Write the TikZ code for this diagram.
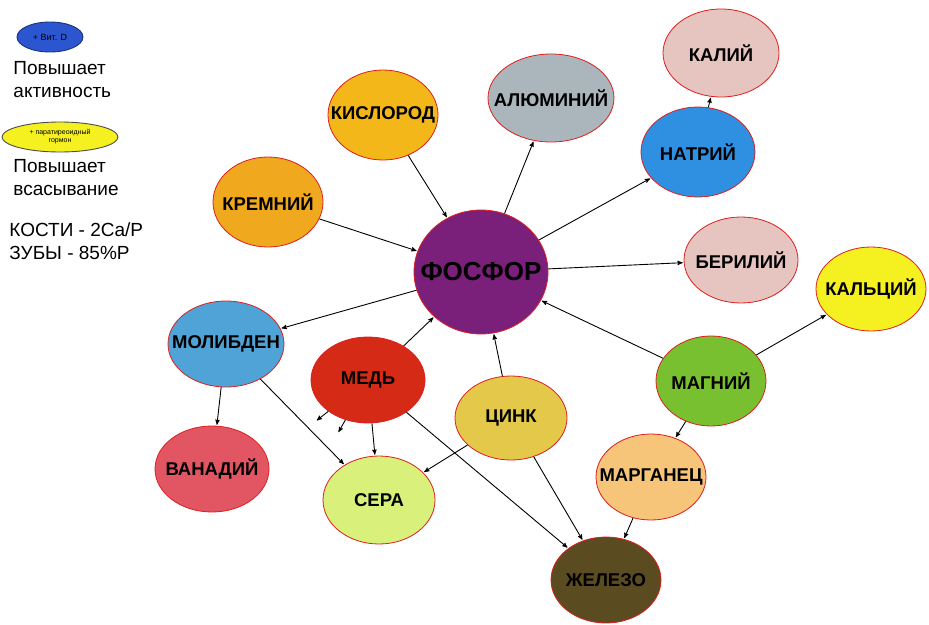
\documentclass[tikz,border=0pt]{standalone}
\usepackage{fontspec}
\setmainfont{Liberation Sans}
\usetikzlibrary{shapes.geometric, arrows}

\definecolor{phosC}{RGB}{122,31,122}
\definecolor{siliC}{RGB}{240,168,30}
\definecolor{oxyC}{RGB}{243,183,26}
\definecolor{alumC}{RGB}{170,182,188}
\definecolor{pinkC}{RGB}{230,196,192}
\definecolor{sodiC}{RGB}{47,143,224}
\definecolor{calcC}{RGB}{245,240,32}
\definecolor{magnC}{RGB}{120,192,48}
\definecolor{mangC}{RGB}{246,197,122}
\definecolor{ironC}{RGB}{91,75,32}
\definecolor{zincC}{RGB}{227,200,74}
\definecolor{sulfC}{RGB}{217,240,122}
\definecolor{coppC}{RGB}{213,42,21}
\definecolor{molyC}{RGB}{79,163,214}
\definecolor{vanaC}{RGB}{226,85,99}
\definecolor{vitC}{RGB}{44,85,208}
\definecolor{rimC}{RGB}{222,30,30}

\tikzset{
  elem/.style={ellipse, draw=rimC, line width=0.8pt, inner sep=0pt,
    minimum width=112, minimum height=88},
  every label/.style={inner sep=0pt, text=black,
    font=\bfseries\fontsize{18.5}{21}\selectfont},
  legend/.style={anchor=north west, align=left, inner sep=0pt,
    font=\fontsize{19}{23}\selectfont}
}

\begin{document}
\begin{tikzpicture}[x=1pt,y=-1pt,->,>=stealth',shorten >=1pt,line width=0.9pt]
  \useasboundingbox (0,0) rectangle (929,624);

  % legend
  \node[ellipse, draw=vitC!60!black, fill=vitC, minimum width=66, minimum height=30, inner sep=0pt,
    label={[font=\fontsize{9}{10}\selectfont]center:+ Вит. D}] (vit) at (50,37) {};
  \node[legend] (act) at (13,61) {Повышает\\активность};
  \node[ellipse, draw=black!70, fill=calcC, minimum width=116, minimum height=30, inner sep=0pt,
    label={[font=\fontsize{7}{8}\selectfont, align=center]center:+ паратиреоидный\\гормон}] (para) at (60,137) {};
  \node[legend] (abs) at (13,159) {Повышает\\всасывание};
  \node[legend] (bone) at (9,222) {КОСТИ - 2Ca/P\\ЗУБЫ - 85\%P};

  % elements
  \node[elem, fill=phosC, minimum width=134, minimum height=124,
    label={[font=\bfseries\fontsize{26}{29}\selectfont]center:ФОСФОР}] (phos) at (481,272) {};
  \node[elem, fill=siliC, minimum width=110, minimum height=90, label=center:КРЕМНИЙ] (sili) at (268,202) {};
  \node[elem, fill=oxyC, minimum width=110, minimum height=90, label=center:КИСЛОРОД] (oxy) at (383,115) {};
  \node[elem, fill=alumC, minimum width=126, minimum height=88, label=center:АЛЮМИНИЙ] (alum) at (551,98) {};
  \node[elem, fill=pinkC, minimum width=116, minimum height=88, label=center:КАЛИЙ] (pota) at (721,53) {};
  \node[elem, fill=sodiC, minimum width=114, minimum height=90, label=center:НАТРИЙ] (sodi) at (698,152) {};
  \node[elem, fill=pinkC, minimum width=114, minimum height=86, label=center:БЕРИЛИЙ] (bery) at (741,260) {};
  \node[elem, fill=calcC, minimum width=110, minimum height=84, label=center:КАЛЬЦИЙ] (calc) at (871,289) {};
  \node[elem, fill=magnC, minimum width=110, minimum height=90, label=center:МАГНИЙ] (magn) at (711,381) {};
  \node[elem, fill=mangC, minimum width=110, minimum height=86, label=center:МАРГАНЕЦ] (mang) at (651,477) {};
  \node[elem, fill=ironC, minimum width=110, minimum height=86, label=center:ЖЕЛЕЗО] (iron) at (606,580) {};
  \node[elem, fill=zincC, minimum width=112, minimum height=84, label=center:ЦИНК] (zinc) at (511,418) {};
  \node[elem, fill=sulfC, minimum width=112, minimum height=88, label=center:СЕРА] (sulf) at (379,500) {};
  \node[elem, fill=coppC, minimum width=114, minimum height=86, label=center:МЕДЬ] (copp) at (368,380) {};
  \node[elem, fill=molyC, minimum width=116, minimum height=86, label=center:МОЛИБДЕН] (moly) at (226,344) {};
  \node[elem, fill=vanaC, minimum width=114, minimum height=86, label=center:ВАНАДИЙ] (vana) at (212,469) {};

  \coordinate (s1) at (316,421);
  \coordinate (s2) at (338,433);

  \path
  (sili) edge (phos)
  (oxy) edge (phos)
  (phos) edge (alum)
         edge (sodi)
         edge (bery)
         edge (moly)
  (sodi) edge (pota)
  (magn) edge (phos)
         edge (calc)
         edge (mang)
  (mang) edge (iron)
  (zinc) edge (phos)
         edge (sulf)
         edge (iron)
  (copp) edge (phos)
         edge (sulf)
         edge (iron)
         edge (s1)
         edge (s2)
  (moly) edge (vana)
         edge (sulf)
  ;
\end{tikzpicture}
\end{document}
